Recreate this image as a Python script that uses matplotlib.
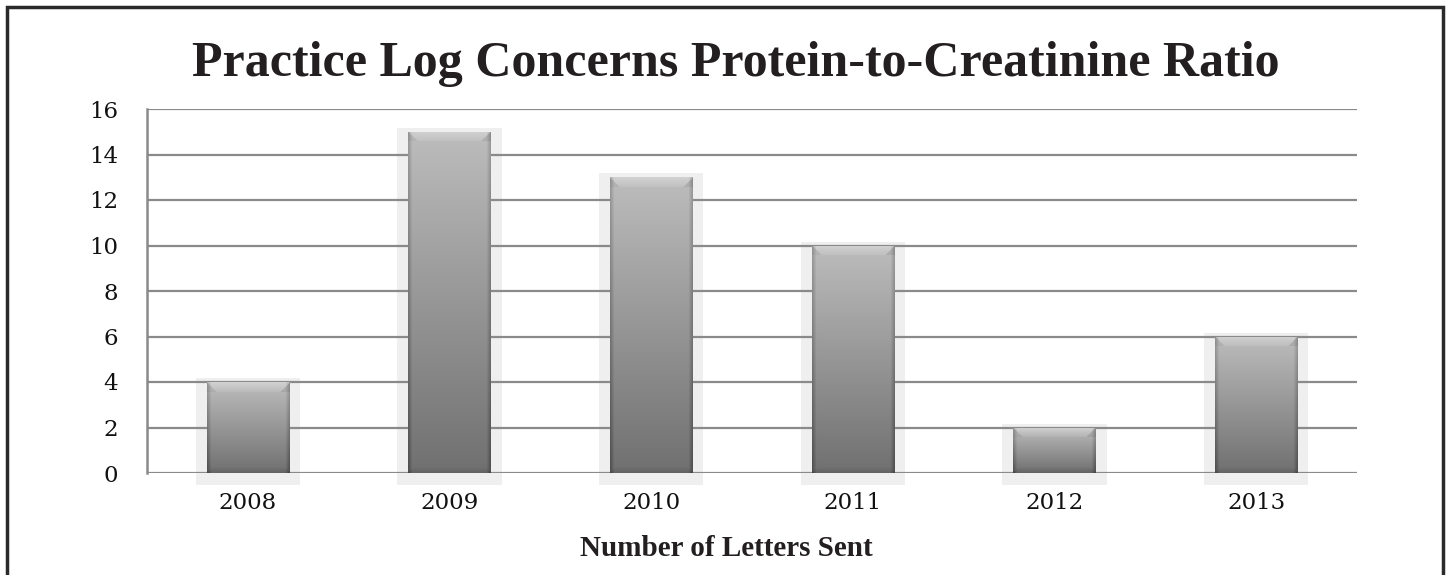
import numpy as np
import matplotlib
matplotlib.use("Agg")
import matplotlib.pyplot as plt
from matplotlib.patches import Rectangle

years = ["2008", "2009", "2010", "2011", "2012", "2013"]
letters = [4, 15, 13, 10, 2, 6]
yticks = [0, 2, 4, 6, 8, 10, 12, 14, 16]
title = "Practice Log Concerns Protein-to-Creatinine Ratio"
xlabel = "Number of Letters Sent"

W, H = 1447, 575
fig = plt.figure(figsize=(W / 100, H / 100), dpi=100)
fig.patch.set_facecolor("white")
ax = fig.add_axes([147 / W, 1 - 473 / H, (1357 - 147) / W, (473 - 109) / H])

x = np.arange(len(years))
bw = 0.407
ax.set_xlim(-0.5, len(years) - 0.5)
ax.set_ylim(0, 16)

for t in yticks:
    ax.axhline(t, color="#8a8a8a", lw=1.6, zorder=2)

ppu_y = (473 - 109) / 16.0
ppu_x = (1357 - 147) / 6.0
gx = 11 / ppu_x
gy_top = 4 / ppu_y
gy_bot = 12 / ppu_y


def bar_image(nrows, ncols=82):
    t = np.linspace(0, 1, nrows)[:, None]
    base = 0.74 - 0.30 * t
    img = np.repeat(base, ncols, axis=1)
    c = np.arange(ncols)[None, :]
    edge = np.minimum(c, ncols - 1 - c)
    img = img - 0.13 * np.clip(1 - edge / 4.0, 0, 1)
    # top bevel (trapezoid highlight)
    bev = 10
    for r in range(min(bev, nrows)):
        img[r, r:ncols - r] += 0.06 * (1 - r / bev) + 0.02
        img[r, :r] -= 0.03
        img[r, ncols - r:] -= 0.05
    # bottom bevel darker
    bb = 6
    for r in range(min(bb, nrows)):
        rr = nrows - 1 - r
        img[rr, r:ncols - r] -= 0.05 * (1 - r / bb)
    return np.clip(img, 0, 1)


for xi, v in zip(x, letters):
    glow = Rectangle((xi - bw / 2 - gx, -gy_bot), bw + 2 * gx, v + gy_top + gy_bot,
                     facecolor="#efefef", edgecolor="none", zorder=1, clip_on=False)
    ax.add_patch(glow)
    nrows = max(int(round(v * ppu_y)), 12)
    img = bar_image(nrows)
    rgba = np.dstack([img, img, img, np.ones_like(img)])
    bar = ax.bar(xi, v, width=bw, color="none", edgecolor="none", zorder=3)[0]
    im = ax.imshow(rgba, extent=[xi - bw / 2, xi + bw / 2, 0, v], aspect="auto",
                   zorder=3, interpolation="bilinear")
    im.set_clip_path(bar)

ax.set_xlim(-0.5, len(years) - 0.5)
ax.set_ylim(0, 16)

for s in ["top", "right", "bottom"]:
    ax.spines[s].set_visible(False)
ax.spines["left"].set_color("#8a8a8a")
ax.spines["left"].set_linewidth(1.8)
ax.spines["left"].set_zorder(4)

ax.set_yticks(yticks)
ax.set_yticklabels([str(t) for t in yticks], family="DejaVu Serif", fontsize=16.5, color="#111111")
ax.set_xticks(x)
ax.set_xticklabels(years, family="DejaVu Serif", fontsize=16.5, color="#111111")
ax.tick_params(axis="y", length=0, pad=21)
ax.tick_params(axis="x", length=0, pad=14)

fig.text(736 / W, 1 - 64 / H, title, ha="center", va="center",
         family="Liberation Serif", fontweight="bold", fontsize=36, color="#231f20")
fig.text(726 / W, 1 - 549 / H, xlabel, ha="center", va="center",
         family="Liberation Serif", fontweight="bold", fontsize=21, color="#231f20")

frame = Rectangle((7 / W, -0.05), (1443 - 7) / W, 1 - 7 / H + 0.05,
                  transform=fig.transFigure, facecolor="none",
                  edgecolor="#2a2a2a", lw=2.5, zorder=10)
fig.patches.append(frame)

fig.savefig("out.png", dpi=100)
